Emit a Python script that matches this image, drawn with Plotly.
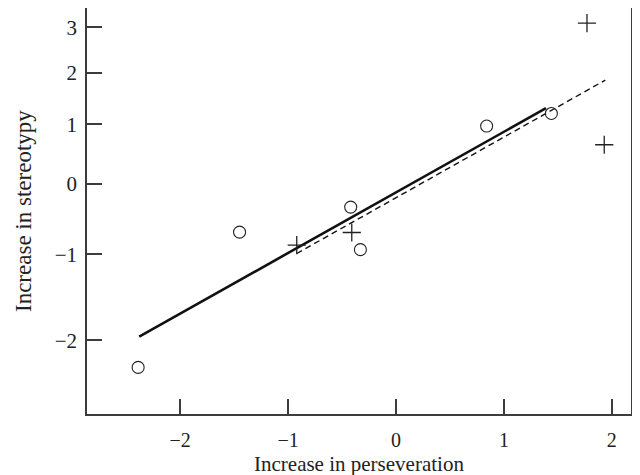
import plotly.graph_objects as go

# Data (in the chart's own units)
circle_x = [-2.39, -1.45, -0.42, -0.33, 0.84, 1.44]
circle_y = [-2.27, -0.705, -0.35, -0.94, 0.97, 1.20]
cross_x = [-0.92, -0.41, 1.77, 1.93]
cross_y = [-0.88, -0.71, 3.10, 0.64]
solid_x = [-2.38, 1.39]
solid_y = [-1.96, 1.30]
dashed_x = [-0.92, 1.94]
dashed_y = [-0.99, 1.85]

x_ticks = [-2, -1, 0, 1, 2]
x_ticklabels = ["\u22122", "\u22121", "0", "1", "2"]
y_ticks = [3, 2, 1, 0, -1, -2]
y_ticklabels = ["3", "2", "1", "0", "\u22121", "\u22122"]
x_title = "Increase in perseveration"
y_title = "Increase in stereotypy"

# The vertical axis of the original is compressed toward the top: a log scale of (y + shift)
Y_SHIFT = 6.0


def sh(vals):
    return [v + Y_SHIFT for v in vals]


FONT = "Liberation Serif"
INK = "#222222"
LINE = "#3c3c3c"

fig = go.Figure()
fig.add_trace(go.Scatter(x=solid_x, y=sh(solid_y), mode="lines",
                         line=dict(color="#111111", width=2.6), showlegend=False))
fig.add_trace(go.Scatter(x=dashed_x, y=sh(dashed_y), mode="lines",
                         line=dict(color="#111111", width=1.4, dash="6px,4px"), showlegend=False))
fig.add_trace(go.Scatter(x=circle_x, y=sh(circle_y), mode="markers",
                         marker=dict(symbol="circle-open", size=12, color="#222222",
                                     line=dict(width=1.1)), showlegend=False))
fig.add_trace(go.Scatter(x=cross_x, y=sh(cross_y), mode="markers",
                         marker=dict(symbol="cross-thin-open", size=13, color="#222222",
                                     line=dict(width=1.3)), showlegend=False))

# the page body has an 8px margin, so the figure is sized to fit the window
fig.update_layout(
    width=632, height=467,
    margin=dict(l=79, r=9, t=0, b=61, pad=0),
    paper_bgcolor="white", plot_bgcolor="white",
    font=dict(family=FONT, color=INK, size=21),
)
fig.update_xaxes(
    range=[-2.864, 2.178], showgrid=False, zeroline=False, automargin=False,
    showline=True, mirror=True, linecolor=LINE, linewidth=1.5,
    ticks="inside", ticklen=15, tickwidth=1.5, tickcolor=LINE,
    tickvals=x_ticks, ticktext=x_ticklabels, ticklabelstandoff=7,
    tickfont=dict(family=FONT, size=20, color=INK),
)
fig.update_yaxes(
    type="log", range=[0.5193, 0.9760], showgrid=False, zeroline=False, automargin=False,
    showline=True, mirror=True, linecolor=LINE, linewidth=1.5,
    ticks="inside", ticklen=15, tickwidth=1.5, tickcolor=LINE,
    tickvals=sh(y_ticks), ticktext=y_ticklabels, ticklabelstandoff=4,
    tickfont=dict(family=FONT, size=21, color=INK),
)
fig.add_annotation(text=x_title, xref="paper", yref="paper", x=0.5, y=0,
                   xanchor="center", yanchor="middle", yshift=-50, showarrow=False,
                   font=dict(family=FONT, size=21, color=INK))
fig.add_annotation(text=y_title, xref="paper", yref="paper", x=0, y=0.5,
                   xanchor="center", yanchor="middle", xshift=-64, textangle=-90,
                   showarrow=False, font=dict(family=FONT, size=23, color=INK))

fig.write_html("out.html")
